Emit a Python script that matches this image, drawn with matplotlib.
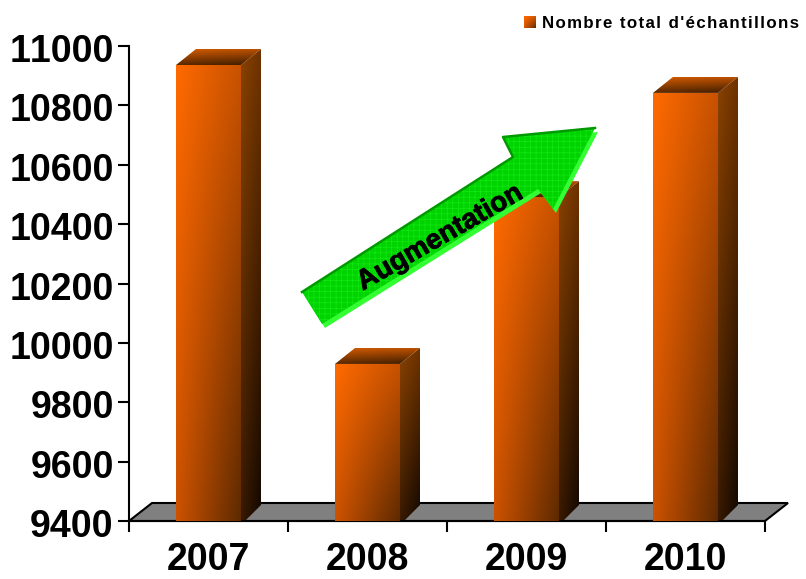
import numpy as np
import matplotlib
matplotlib.use('Agg')
import matplotlib.pyplot as plt
import matplotlib.patheffects as pe
from matplotlib.patches import Polygon
from matplotlib.transforms import ScaledTranslation

plt.rcParams['font.family'] = ['Liberation Sans', 'DejaVu Sans']
plt.rcParams['text.kerning_factor'] = 6
plt.rcParams['hatch.linewidth'] = 0.5

#data
years = ['2007', '2008', '2009', '2010']
totals = [10936, 9929, 10491, 10842]
yticks = [9400, 9600, 9800, 10000, 10200, 10400, 10600, 10800, 11000]
legend_label = "Nombre total d'échantillons"
arrow_label = 'Augmentation'

#pixel sizes of the 3d look
W, H = 806, 579
LEFT, RIGHT, TOP, BOTTOM = 129, 765, 46, 521
ppx = 4 / (RIGHT - LEFT)             #x units per pixel
ppy = (11000 - 9400) / (BOTTOM - TOP)  #y units per pixel
half = 32.5 * ppx
dx, dy = 20 * ppx, 16 * ppy
floor_dx, floor_dy = 23 * ppx, 18 * ppy


def gradient(c00, c10, c01, c11, n=64):
    #bilinear colour ramp, c00 top left, c10 top right, c01 bottom left, c11 bottom right
    c = [np.array(matplotlib.colors.to_rgb(k)) for k in (c00, c10, c01, c11)]
    u, v = np.meshgrid(np.linspace(0, 1, n), np.linspace(0, 1, n))
    u, v = u[..., None], v[..., None]
    return (1-u)*(1-v)*c[0] + u*(1-v)*c[1] + (1-u)*v*c[2] + u*v*c[3]


def fill(ax, pts, colors, zorder):
    pts = np.array(pts)
    x0, x1 = pts[:, 0].min(), pts[:, 0].max()
    y0, y1 = pts[:, 1].min(), pts[:, 1].max()
    im = ax.imshow(gradient(*colors), extent=[x0, x1, y0, y1], aspect='auto',
                   origin='upper', zorder=zorder, interpolation='bilinear')
    im.set_clip_path(Polygon(pts, transform=ax.transData))


fig = plt.figure(figsize=(W / 100, H / 100), dpi=100)
ax = fig.add_axes([LEFT / W, 1 - BOTTOM / H, (RIGHT - LEFT) / W, (BOTTOM - TOP) / H])

#floor
floor = Polygon([(0, 9400), (floor_dx, 9400 + floor_dy), (4 + floor_dx, 9400 + floor_dy), (4, 9400)],
                fc='#808080', ec='black', lw=1.5, zorder=1, clip_on=False)
ax.add_patch(floor)

#bars
for i, v in enumerate(totals):
    l, r = i + 0.5 - half, i + 0.5 + half
    fill(ax, [(l, 9400), (r, 9400), (r, v), (l, v)],
         ('#ff6a00', '#c85200', '#cc5200', '#5e2a00'), 3)
    fill(ax, [(r, 9400), (r + 4 * ppx, 9400), (r + dx, 9400 + dy), (r + dx, v + dy), (r, v)],
         ('#8a4200', '#6e3200', '#3a1a00', '#120800'), 2)
    fill(ax, [(l, v), (r, v), (r + dx, v + dy), (l + dx, v + dy)],
         ('#d45c00', '#b85000', '#5a2800', '#3e1c00'), 2)

ax.set_xlim(0, 4)
ax.set_ylim(9400, 11000)
ax.set_yticks(yticks)
ax.set_xticks([0, 1, 2, 3, 4])
ax.set_xticklabels([])
ax.set_xticks([0.5, 1.5, 2.5, 3.5], minor=True)
ax.set_xticklabels(years, minor=True, fontsize=27, fontweight='bold')
ax.tick_params(axis='x', which='minor', length=0, pad=15)
ax.tick_params(axis='x', which='major', length=8, width=1.5, direction='out')
ax.tick_params(axis='y', length=8, width=1.5, direction='out', pad=3, labelsize=27)
#labels sit a little under their ticks in the reference
down = ScaledTranslation(0, -2 / 100, fig.dpi_scale_trans)
for t in ax.get_yticklabels():
    t.set_fontweight('bold')
    t.set_transform(t.get_transform() + down)
ax.spines['top'].set_visible(False)
ax.spines['right'].set_visible(False)
ax.spines['left'].set_linewidth(1.5)
ax.spines['bottom'].set_linewidth(1.5)
ax.patch.set_alpha(0)

#overlay in pixel coordinates for arrow and legend
ov = fig.add_axes([0, 0, 1, 1])
ov.set_xlim(0, W)
ov.set_ylim(H, 0)
ov.axis('off')

arrow = [(302, 292), (513, 157), (503, 137), (595, 128), (553, 209), (538, 189), (322, 324)]
shadow = [(x + 3, y + 4) for x, y in arrow]
ov.add_patch(Polygon(shadow, fc='#33ff33', ec='none', zorder=2))
ov.add_patch(Polygon(arrow, fc='#00d400', ec='#14e814', lw=0, hatch='+++', zorder=3))
ov.plot([302, 513, 503, 595], [292, 157, 137, 128], color='#009a00', lw=1.8, zorder=4)
ov.text(440, 238, arrow_label, rotation=30, rotation_mode='anchor', ha='center', va='center',
        fontsize=20, fontweight='bold', color='black', zorder=5,
        path_effects=[pe.withStroke(linewidth=0.6, foreground='black')])

#legend
ov.imshow(gradient('#ff6a00', '#d85800', '#d85800', '#5e2a00'), extent=[524, 536, 28, 16],
          aspect='auto', zorder=3)
ov.set_xlim(0, W)
ov.set_ylim(H, 0)
ov.text(542, 23, '\u200a'.join(legend_label), fontsize=12.2, fontweight='bold', ha='left', va='center', color='black')

fig.savefig('out.png', dpi=100)
